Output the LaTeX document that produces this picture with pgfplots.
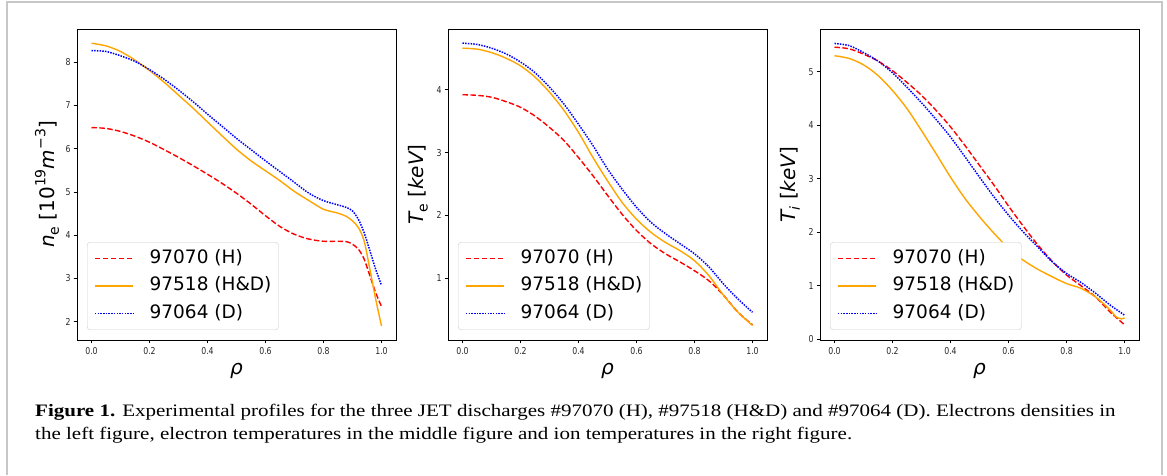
\documentclass[border=0pt]{standalone}
\usepackage{fontspec}
\setmainfont{Liberation Serif}
\newfontfamily\dv{DejaVu Sans}
\usepackage{pgfplots}
\pgfplotsset{compat=1.18}
\definecolor{mplorange}{HTML}{FFA500}
\definecolor{mplblue}{HTML}{0000FF}
\newcommand{\lab}{\dv\fontsize{20}{22}\selectfont}
\newcommand{\msub}[1]{\raisebox{-0.22em}{\fontsize{14}{14}\selectfont #1}}
\newcommand{\msup}[1]{\raisebox{0.45em}{\fontsize{14}{14}\selectfont #1}}
\pgfplotsset{
  myax/.style={
    scale only axis, width=319pt, height=311pt,
    xmin=-0.05, xmax=1.05,
    xtick={0,0.2,0.4,0.6,0.8,1},
    xticklabel style={/pgf/number format/.cd, fixed, fixed zerofill, precision=1},
    /pgf/number format/assume math mode=true,
    tick align=outside, xtick pos=bottom, ytick pos=left,
    major tick length=3.5pt,
    tick style={black, line width=0.7pt},
    axis line style={black, line width=0.8pt},
    ticklabel style={font=\dv\fontsize{9.5}{10}\selectfont, text=black!85, xscale=0.82},
    every axis x label/.style={at={(axis description cs:0.5,0)}, yshift=-31pt, anchor=center},
    every axis y label/.style={at={(axis description cs:0,0.5)}, xshift=-30pt, rotate=90, anchor=center},
    xlabel={\lab\itshape ρ},
    legend cell align=left,
    legend image code/.code={\draw[#1] (0pt,0pt) -- (38pt,0pt);},
    legend style={at={(axis description cs:0,0)}, anchor=south west, xshift=10pt, yshift=10pt,
      draw=black!20, rounded corners=3pt, fill=white,
      font=\dv\fontsize{18.5}{20}\selectfont, inner xsep=7pt, inner ysep=5.5pt, row sep=6pt,
      nodes={inner xsep=0pt, inner ysep=2pt, text height=13.5pt, text depth=4pt},
      /tikz/every odd column/.append style={column sep=16pt}},
  },
  rd/.style={color=red, draw=red, line width=1.4pt, dash pattern=on 5.5pt off 2.4pt, smooth},
  og/.style={color=mplorange, draw=mplorange, line width=1.4pt, solid, smooth},
  bl/.style={color=mplblue, draw=mplblue, line width=1.5pt, dash pattern=on 1.5pt off 1.2pt, smooth},
}
\begin{document}
\begin{tikzpicture}[x=1pt,y=1pt]
\path (0,0) rectangle (1167,470);
\draw[black!22, line width=2pt] (7,-5) -- (7,468) -- (1162,468) -- (1162,-5);
% Panel 1
\begin{axis}[myax, at={(77pt,130pt)}, anchor=south west,
  ymin=1.576, ymax=8.77, ytick={2,3,4,5,6,7,8},
  ylabel={\lab{\itshape n}\msub{e} [10\msup{19}{\itshape m}\msup{−3}]}]
\addplot[rd] table {
0 6.49
0.05 6.47
0.1 6.40
0.15 6.29
0.2 6.15
0.25 5.98
0.3 5.80
0.35 5.61
0.4 5.41
0.45 5.20
0.5 4.97
0.55 4.72
0.6 4.45
0.65 4.20
0.7 4.02
0.75 3.91
0.8 3.86
0.85 3.86
0.88 3.85
0.9 3.79
0.92 3.68
0.94 3.45
0.96 3.06
0.98 2.67
1.0 2.35
};
\addlegendentry{97070 (H)}
\addplot[og] table {
0 8.44
0.05 8.38
0.1 8.25
0.15 8.05
0.2 7.81
0.25 7.54
0.3 7.24
0.35 6.94
0.4 6.62
0.45 6.30
0.5 5.99
0.55 5.72
0.6 5.49
0.65 5.26
0.7 5.01
0.75 4.80
0.8 4.60
0.85 4.51
0.88 4.43
0.9 4.33
0.92 4.18
0.94 3.87
0.96 3.21
0.98 2.52
1.0 1.90
};
\addlegendentry{97518 (H\&D)}
\addplot[bl] table {
0 8.27
0.05 8.25
0.1 8.15
0.15 8.02
0.2 7.83
0.25 7.61
0.3 7.36
0.35 7.09
0.4 6.80
0.45 6.52
0.5 6.24
0.55 5.98
0.6 5.72
0.65 5.47
0.7 5.22
0.75 4.97
0.8 4.80
0.85 4.70
0.88 4.64
0.9 4.56
0.92 4.37
0.94 4.06
0.96 3.64
0.98 3.21
1.0 2.84
};
\addlegendentry{97064 (D)}
\end{axis}
% Panel 2
\begin{axis}[myax, at={(448pt,130pt)}, anchor=south west,
  ymin=0.019, ymax=4.965, ytick={1,2,3,4},
  ylabel={\lab{\itshape T}\msub{e} [{\itshape keV}]}]
\addplot[rd] table {
0 3.92
0.05 3.91
0.1 3.88
0.15 3.81
0.2 3.72
0.25 3.58
0.3 3.40
0.35 3.19
0.4 2.92
0.45 2.63
0.5 2.32
0.55 2.02
0.6 1.76
0.65 1.55
0.7 1.39
0.75 1.26
0.8 1.12
0.85 0.96
0.9 0.73
0.95 0.46
1.0 0.26
};
\addlegendentry{97070 (H)}
\addplot[og] table {
0 4.66
0.05 4.645
0.1 4.59
0.15 4.50
0.2 4.38
0.25 4.20
0.3 3.96
0.35 3.67
0.4 3.32
0.45 2.92
0.5 2.55
0.55 2.21
0.6 1.94
0.65 1.73
0.7 1.57
0.75 1.44
0.8 1.28
0.85 1.04
0.9 0.73
0.95 0.46
1.0 0.25
};
\addlegendentry{97518 (H\&D)}
\addplot[bl] table {
0 4.74
0.05 4.72
0.1 4.66
0.15 4.57
0.2 4.44
0.25 4.27
0.3 4.04
0.35 3.77
0.4 3.45
0.45 3.11
0.5 2.74
0.55 2.42
0.6 2.13
0.65 1.89
0.7 1.71
0.75 1.55
0.8 1.39
0.85 1.18
0.9 0.91
0.95 0.67
1.0 0.46
};
\addlegendentry{97064 (D)}
\end{axis}
% Panel 3
\begin{axis}[myax, at={(820pt,130pt)}, anchor=south west,
  ymin=-0.015, ymax=5.80, ytick={0,1,2,3,4,5},
  ylabel={\lab{\itshape T}\msub{\itshape i} [{\itshape keV}]}]
\addplot[rd] table {
0 5.46
0.05 5.43
0.1 5.33
0.15 5.20
0.2 5.02
0.25 4.80
0.3 4.56
0.35 4.28
0.4 3.97
0.45 3.62
0.5 3.25
0.55 2.88
0.6 2.49
0.65 2.12
0.7 1.77
0.75 1.46
0.8 1.20
0.85 1.00
0.9 0.79
0.95 0.51
1.0 0.27
};
\addlegendentry{97070 (H)}
\addplot[og] table {
0 5.30
0.05 5.25
0.1 5.13
0.15 4.93
0.2 4.65
0.25 4.31
0.3 3.90
0.35 3.47
0.4 3.03
0.45 2.63
0.5 2.29
0.55 1.98
0.6 1.70
0.65 1.48
0.7 1.31
0.75 1.17
0.8 1.04
0.85 0.95
0.9 0.79
0.95 0.55
0.97 0.42
0.99 0.38
1.0 0.40
};
\addlegendentry{97518 (H\&D)}
\addplot[bl] table {
0 5.53
0.05 5.49
0.1 5.36
0.15 5.20
0.2 4.98
0.25 4.71
0.3 4.42
0.35 4.11
0.4 3.78
0.45 3.41
0.5 3.03
0.55 2.66
0.6 2.32
0.65 2.01
0.7 1.73
0.75 1.45
0.8 1.23
0.85 1.06
0.9 0.86
0.95 0.64
1.0 0.45
};
\addlegendentry{97064 (D)}
\end{axis}
% Caption
\node[anchor=base west, inner sep=0pt, font=\fontsize{17.5}{20}\selectfont] at (35,53.3)
  {\scalebox{1.2}[1]{\textbf{Figure 1.} Experimental profiles for the three JET discharges \#97070 (H), \#97518 (H\&D) and \#97064 (D). Electrons densities in}};
\node[anchor=base west, inner sep=0pt, font=\fontsize{17.5}{20}\selectfont] at (35,30)
  {\scalebox{1.2}[1]{the left figure, electron temperatures in the middle figure and ion temperatures in the right figure.}};
\end{tikzpicture}
\end{document}
